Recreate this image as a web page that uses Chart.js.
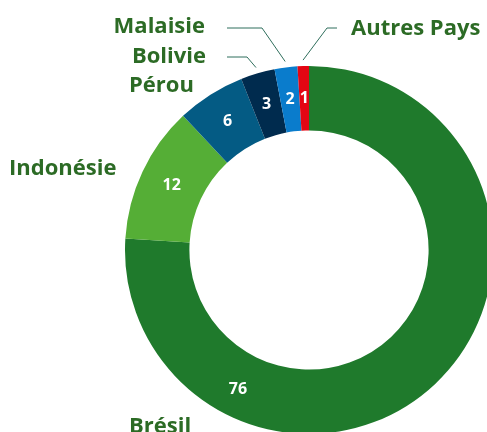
<!DOCTYPE html>
<html>
<head>
<meta charset="utf-8">
<script src="https://cdn.jsdelivr.net/npm/chart.js@4"></script>
<style>
  html, body { margin: 0; padding: 0; background: #fff; overflow: hidden; width: 487px; height: 432px; }
  canvas { position: absolute; left: 0; top: 0; }
</style>
</head>
<body>
<canvas id="origine" width="620" height="500"></canvas>
<script>
// part des importations par pays d'origine (%)
const pays = ['Brésil', 'Indonésie', 'Pérou', 'Bolivie', 'Malaisie', 'Autres Pays'];
const parts = [76, 12, 6, 3, 2, 1];
const couleurs = ['#1f7a2c', '#55ae36', '#045b84', '#002b4e', '#0a7ccc', '#e30613'];

// where the country names go (text annotations), leader = draw a small line to the slice
const etiquettes = [
  { x: 129, y: 433, align: 'left', leader: null },
  { x: 9, y: 175, align: 'left', leader: null },
  { x: 129, y: 92, align: 'left', leader: null },
  { x: 206, y: 63, align: 'right', leader: [[227, 57], [247, 57]] },
  { x: 205, y: 33, align: 'right', leader: [[227, 28], [262, 28]] },
  { x: 351, y: 35, align: 'left', leader: [[337, 28], [327, 28]] }
];

const vert = '#2c6b25';

const texteSlices = {
  id: 'texteSlices',
  afterDatasetsDraw(chart) {
    const ctx = chart.ctx;
    const meta = chart.getDatasetMeta(0);
    ctx.save();
    meta.data.forEach(function(arc, i) {
      const inner = arc.innerRadius, outer = arc.outerRadius;
      let mid = (arc.startAngle + arc.endAngle) / 2;
      let r = (inner + outer) / 2;
      // the big slice has its number down on the lower left
      if (i === 0) { mid = Math.PI / 2 + 0.47; r += 5; }
      const vx = arc.x + Math.cos(mid) * r;
      const vy = arc.y + Math.sin(mid) * r;
      ctx.fillStyle = '#fff';
      ctx.font = 'bold 16px "Open Sans"';
      ctx.textAlign = 'center';
      ctx.textBaseline = 'middle';
      ctx.fillText(parts[i], vx, vy);

      const e = etiquettes[i];
      ctx.fillStyle = vert;
      ctx.font = 'bold 22px "Open Sans"';
      ctx.textAlign = e.align;
      ctx.textBaseline = 'alphabetic';
      ctx.fillText(pays[i], e.x, e.y);

      if (e.leader) {
        const a = (arc.startAngle + arc.endAngle) / 2;
        const ex = arc.x + Math.cos(a) * (outer + 6);
        const ey = arc.y + Math.sin(a) * (outer + 6);
        ctx.strokeStyle = '#2f6e5c';
        ctx.lineWidth = 1;
        ctx.beginPath();
        ctx.moveTo(e.leader[0][0], e.leader[0][1]);
        ctx.lineTo(e.leader[1][0], e.leader[1][1]);
        ctx.lineTo(ex, ey);
        ctx.stroke();
      }
    });
    ctx.restore();
  }
};

const ctx = document.getElementById('origine').getContext('2d');
const chart = new Chart(ctx, {
  type: 'doughnut',
  data: {
    labels: pays,
    datasets: [{
      data: parts,
      backgroundColor: couleurs,
      borderWidth: 0
    }]
  },
  options: {
    responsive: false,
    animation: false,
    cutout: '65%',
    layout: { padding: { top: 66, bottom: 66, left: 125, right: 127 } },
    plugins: {
      legend: { display: false },
      tooltip: { enabled: false }
    }
  },
  plugins: [texteSlices]
});
</script>
</body>
</html>
